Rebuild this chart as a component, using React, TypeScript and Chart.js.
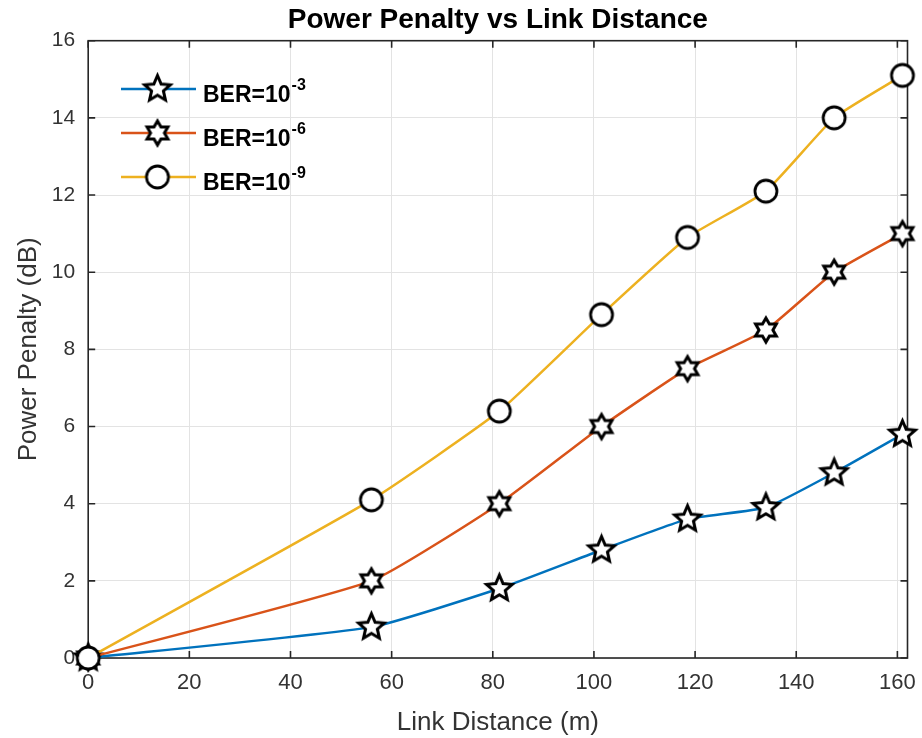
import React, { useEffect, useRef } from "react";
import { Chart, registerables } from "chart.js";

Chart.register(...registerables);

// ---- data ----
const linkDistance = [0, 56, 81.3, 101.5, 118.5, 134, 147.5, 161];
const penaltyBer3 = [0, 0.8, 1.8, 2.8, 3.6, 3.9, 4.8, 5.8];
const penaltyBer6 = [0, 2.0, 4.0, 6.0, 7.5, 8.5, 10.0, 11.0];
const penaltyBer9 = [0, 4.1, 6.4, 8.9, 10.9, 12.1, 14.0, 15.1];
const legendBase = ["BER=10", "BER=10", "BER=10"];
const legendExponents = ["-3", "-6", "-9"];
const xTickValues = [0, 20, 40, 60, 80, 100, 120, 140, 160];
const yTickValues = [0, 2, 4, 6, 8, 10, 12, 14, 16];

const FONT = "'Liberation Sans', Arial, Helvetica, sans-serif";
const COLORS = ["#0072BD", "#D95319", "#EDB120"];

function makeStar(points: number, R: number, ratio: number, lw: number): HTMLCanvasElement {
  const size = Math.ceil(2 * R + 8);
  const c = document.createElement("canvas");
  c.width = size;
  c.height = size;
  const g = c.getContext("2d")!;
  const cx = size / 2;
  const cy = size / 2;
  g.beginPath();
  for (let i = 0; i < points * 2; i++) {
    const a = -Math.PI / 2 + (i * Math.PI) / points;
    const r = i % 2 === 0 ? R : R * ratio;
    const px = cx + r * Math.cos(a);
    const py = cy + r * Math.sin(a);
    if (i === 0) g.moveTo(px, py);
    else g.lineTo(px, py);
  }
  g.closePath();
  g.fillStyle = "#ffffff";
  g.fill();
  g.lineWidth = lw;
  g.lineJoin = "miter";
  g.miterLimit = 3;
  g.strokeStyle = "#000000";
  g.stroke();
  return c;
}

function makeCircle(R: number, lw: number): HTMLCanvasElement {
  const size = Math.ceil(2 * R + 8);
  const c = document.createElement("canvas");
  c.width = size;
  c.height = size;
  const g = c.getContext("2d")!;
  g.beginPath();
  g.arc(size / 2, size / 2, R, 0, Math.PI * 2);
  g.fillStyle = "#ffffff";
  g.fill();
  g.lineWidth = lw;
  g.strokeStyle = "#000000";
  g.stroke();
  return c;
}

export default function App() {
  const ref = useRef<HTMLCanvasElement | null>(null);

  useEffect(() => {
    if (!ref.current) return;
    const markers = [makeStar(5, 13.5, 0.46, 3), makeStar(6, 12, 0.58, 3), makeCircle(11, 2.8)];

    const framePlugin = {
      id: "matlabFrame",
      beforeDatasetsDraw(chart: any) {
        const { ctx, chartArea } = chart;
        const { left, right, top, bottom } = chartArea;
        const xs = chart.scales.x;
        const ys = chart.scales.y;
        ctx.save();
        ctx.strokeStyle = "#262626";
        ctx.lineWidth = 1.6;
        ctx.strokeRect(left, top, right - left, bottom - top);
        const tl = 7;
        ctx.beginPath();
        xTickValues.forEach((v) => {
          const px = xs.getPixelForValue(v);
          ctx.moveTo(px, bottom);
          ctx.lineTo(px, bottom - tl);
          ctx.moveTo(px, top);
          ctx.lineTo(px, top + tl);
        });
        yTickValues.forEach((v) => {
          const py = ys.getPixelForValue(v);
          ctx.moveTo(left, py);
          ctx.lineTo(left + tl, py);
          ctx.moveTo(right, py);
          ctx.lineTo(right - tl, py);
        });
        ctx.stroke();
        ctx.restore();
      },
    };

    const legendPlugin = {
      id: "matlabLegend",
      afterDatasetsDraw(chart: any) {
        const { ctx } = chart;
        const rows = [89, 133, 177];
        const x0 = 121;
        const x1 = 196;
        const tx = 203;
        ctx.save();
        rows.forEach((ry, i) => {
          ctx.beginPath();
          ctx.strokeStyle = COLORS[i];
          ctx.lineWidth = 2.5;
          ctx.moveTo(x0, ry);
          ctx.lineTo(x1, ry);
          ctx.stroke();
          const m = markers[i];
          const mx = (x0 + x1) / 2 - 1;
          ctx.drawImage(m, mx - m.width / 2, ry - m.height / 2);
          ctx.fillStyle = "#000000";
          ctx.textAlign = "left";
          ctx.textBaseline = "alphabetic";
          ctx.font = `bold 23px ${FONT}`;
          ctx.fillText(legendBase[i], tx, ry + 13);
          const w = ctx.measureText(legendBase[i]).width;
          ctx.font = `bold 16px ${FONT}`;
          ctx.fillText(legendExponents[i], tx + w + 1, ry + 1);
        });
        ctx.restore();
      },
    };

    const mkDataset = (label: string, data: number[], i: number, order: number) => ({
      label: label + legendExponents[i],
      data: linkDistance.map((d, k) => ({ x: d, y: data[k] })),
      borderColor: COLORS[i],
      backgroundColor: COLORS[i],
      borderWidth: 2.5,
      tension: 0.15,
      pointStyle: markers[i],
      pointRadius: 12,
      pointHoverRadius: 12,
      clip: false as any,
      order,
    });

    const chart = new Chart(ref.current, {
      type: "line",
      data: {
        datasets: [
          mkDataset(legendBase[0], penaltyBer3, 0, 2),
          mkDataset(legendBase[1], penaltyBer6, 1, 1),
          mkDataset(legendBase[2], penaltyBer9, 2, 0),
        ],
      },
      options: {
        animation: false,
        responsive: false,
        devicePixelRatio: 1,
        layout: { padding: { left: 0, right: 14.3, top: 0, bottom: 0 } },
        plugins: {
          legend: { display: false },
          tooltip: { enabled: false },
          title: {
            display: true,
            fullSize: false,
            text: "Power Penalty vs Link Distance",
            color: "#000000",
            font: { family: FONT, size: 28, weight: "bold" },
            padding: { top: 3.5, bottom: 3.6 },
          },
        },
        scales: {
          x: {
            type: "linear",
            min: 0,
            max: 162,
            afterBuildTicks: (s: any) => {
              s.ticks = xTickValues.map((v) => ({ value: v }));
            },
            afterFit: (s: any) => {
              s.height = 80;
              s.paddingLeft = 0;
              s.paddingRight = 0;
            },
            ticks: {
              color: "#333333",
              font: { family: FONT, size: 22 },
              padding: 12,
              maxRotation: 0,
            },
            grid: { color: "#e3e3e3", lineWidth: 1, drawTicks: false },
            border: { display: false },
            title: {
              display: true,
              text: "Link Distance (m)",
              color: "#333333",
              font: { family: FONT, size: 26 },
              padding: { top: 0, bottom: 0 },
            },
          },
          y: {
            type: "linear",
            min: 0,
            max: 16,
            afterBuildTicks: (s: any) => {
              s.ticks = yTickValues.map((v) => ({ value: v }));
            },
            afterFit: (s: any) => {
              s.width = 88.2;
              s.paddingTop = 0;
              s.paddingBottom = 0;
            },
            ticks: {
              color: "#333333",
              font: { family: FONT, size: 21 },
              padding: 13,
            },
            grid: { color: "#e3e3e3", lineWidth: 1, drawTicks: false },
            border: { display: false },
            title: {
              display: true,
              text: "Power Penalty (dB)",
              color: "#333333",
              font: { family: FONT, size: 26 },
              padding: { top: 13.4, bottom: 0 },
            },
          },
        },
      },
      plugins: [framePlugin, legendPlugin],
    });

    return () => chart.destroy();
  }, []);

  return (
    <div
      style={{
        position: "fixed",
        left: 0,
        top: 0,
        width: 922,
        height: 738,
        background: "#ffffff",
      }}
    >
      <canvas ref={ref} width={922} height={738} style={{ width: 922, height: 738 }} />
    </div>
  );
}
